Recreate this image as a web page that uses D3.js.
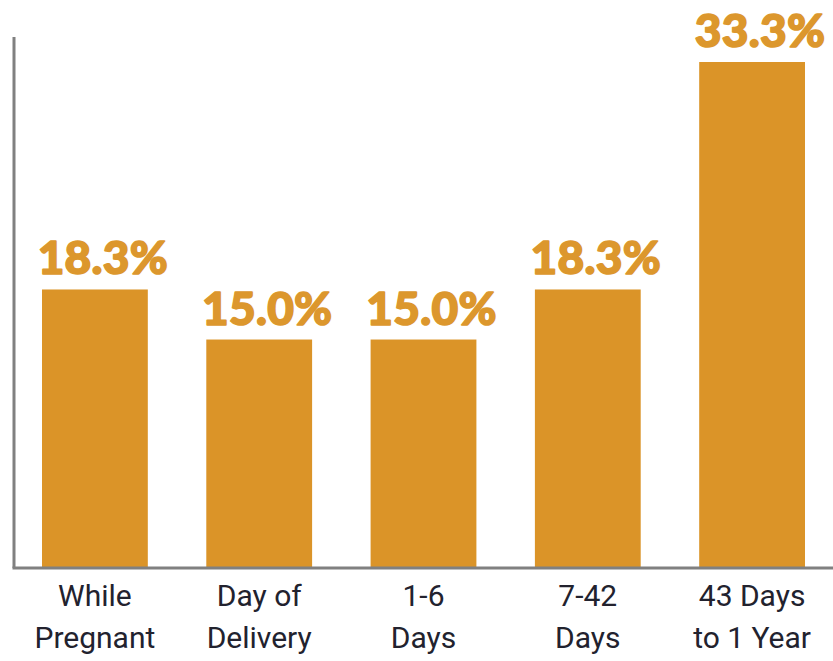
<!DOCTYPE html>
<html lang="en">
<head>
    <meta charset="UTF-8">
    <title>Chart</title>
    <style>
        body { margin: 0; background: #fff; }
    </style>
</head>
<body>
    <svg width="833" height="661"></svg>

    <script src="https://d3js.org/d3.v7.min.js"></script>
    <script>
        var categories = [["While", "Pregnant"], ["Day of", "Delivery"], ["1-6", "Days"], ["7-42", "Days"], ["43 Days", "to 1 Year"]];
        var values = [18.3, 15.0, 15.0, 18.3, 33.3];
        var valueLabels = ["18.3%", "15.0%", "15.0%", "18.3%", "33.3%"];

        var svg = d3.select('svg'),
            width = +svg.attr('width'),
            height = +svg.attr('height');

        var baseY = 567,
            axisX = 14,
            barColor = '#DB9428';

        var x = d3.scaleBand()
            .domain(d3.range(values.length))
            .range([42, 805])
            .paddingInner(0.356)
            .paddingOuter(0);

        var y = d3.scaleLinear()
            .domain([0, 33.3])
            .range([baseY, 62]);

        // bars
        svg.selectAll('rect.bar')
            .data(values)
            .enter().append('rect')
            .attr('class', 'bar')
            .attr('x', function(d, i) { return x(i); })
            .attr('y', function(d) { return y(d); })
            .attr('width', x.bandwidth())
            .attr('height', function(d) { return baseY - y(d); })
            .attr('fill', barColor);

        // value labels (sit a little right of bar centre in the original)
        svg.selectAll('text.val')
            .data(values)
            .enter().append('text')
            .attr('class', 'val')
            .attr('x', function(d, i) { return x(i) + x.bandwidth() / 2 + 8; })
            .attr('y', function(d) { return y(d) - 15; })
            .attr('text-anchor', 'middle')
            .attr('font-family', 'Lato, "DejaVu Sans", sans-serif')
            .attr('font-weight', 900)
            .attr('font-size', 46)
            .attr('letter-spacing', 0.3)
            .attr('fill', '#DC972D')
            .attr('stroke', '#DC972D')
            .attr('stroke-width', 1.6)
            .attr('stroke-linejoin', 'round')
            .text(function(d, i) { return valueLabels[i]; });

        // axes lines
        svg.append('line')
            .attr('x1', axisX).attr('x2', axisX)
            .attr('y1', 37).attr('y2', baseY + 1)
            .attr('stroke', '#808080')
            .attr('stroke-width', 3);

        svg.append('line')
            .attr('x1', axisX - 1.5).attr('x2', width)
            .attr('y1', baseY + 1).attr('y2', baseY + 1)
            .attr('stroke', '#808080')
            .attr('stroke-width', 3);

        // category labels
        var cat = svg.selectAll('text.cat')
            .data(categories)
            .enter().append('text')
            .attr('class', 'cat')
            .attr('text-anchor', 'middle')
            .attr('font-family', 'Roboto, "Liberation Sans", sans-serif')
            .attr('font-size', 30)
            .attr('fill', '#22222e');

        cat.each(function(d, i) {
            var t = d3.select(this);
            d.forEach(function(line, j) {
                t.append('tspan')
                    .attr('x', x(i) + x.bandwidth() / 2)
                    .attr('y', 606 + j * 42)
                    .text(line);
            });
        });
    </script>
</body>
</html>
